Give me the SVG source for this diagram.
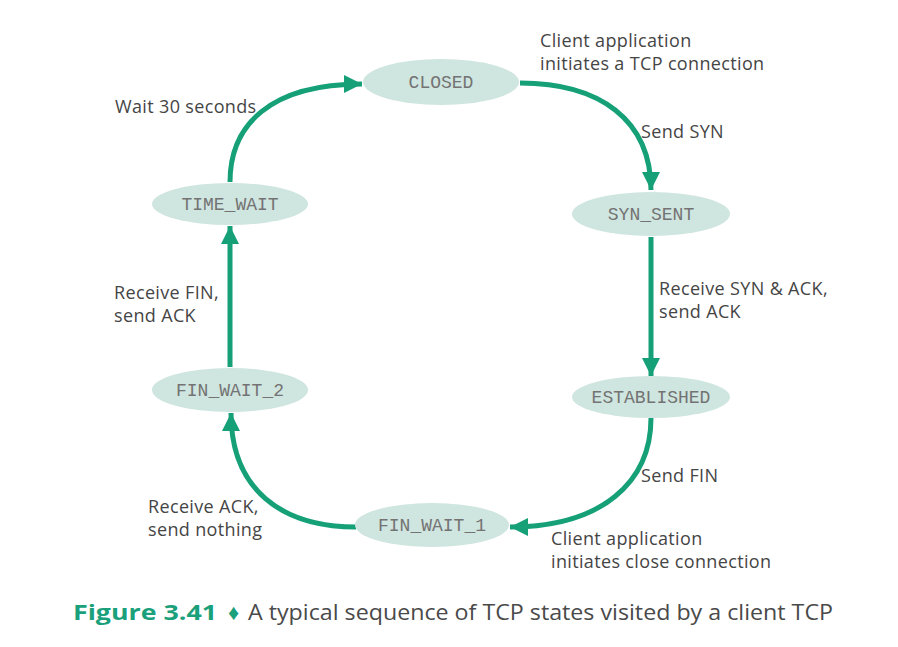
<svg xmlns="http://www.w3.org/2000/svg" width="898" height="647" viewBox="0 0 898 647">
<style>
.node{fill:#cfe5df;}
.st{font-family:"Liberation Mono","DejaVu Sans Mono",monospace;font-size:18px;fill:#737373;text-anchor:middle;}
.lbl{font-family:"Open Sans","Noto Sans",sans-serif;font-size:18px;letter-spacing:0.35px;fill:#454545;}
.edge{fill:none;stroke:#16a078;stroke-width:5;}
.cap{font-family:"Open Sans","Noto Sans",sans-serif;font-size:22px;}
</style>
<defs>
<marker id="ah" markerUnits="userSpaceOnUse" markerWidth="20" markerHeight="18" refX="18" refY="9" orient="auto">
<path d="M0,0 L18,9 L0,18 Z" fill="#16a078"/>
</marker>
</defs>
<rect width="898" height="647" fill="#ffffff"/>
<g id="connectors">
<path class="edge" marker-end="url(#ah)" d="M230,182 C230,125 270,84 362,84"/>
<path class="edge" marker-end="url(#ah)" d="M520,83 C600,83 651,120 651,190"/>
<path class="edge" marker-end="url(#ah)" d="M651,237 L651,376"/>
<path class="edge" marker-end="url(#ah)" d="M651,418 C651,482 602,527 510,527"/>
<path class="edge" marker-end="url(#ah)" d="M356,527 C282,527 231,490 231,413"/>
<path class="edge" marker-end="url(#ah)" d="M230,367 L230,226"/>
</g>
<g id="closed"><ellipse class="node" cx="441" cy="82" rx="78" ry="23"/><text class="st" x="441" y="88">CLOSED</text></g>
<g id="syn_sent"><ellipse class="node" cx="651" cy="214" rx="79" ry="22"/><text class="st" x="651" y="220">SYN_SENT</text></g>
<g id="established"><ellipse class="node" cx="651" cy="397" rx="79" ry="21"/><text class="st" x="651" y="403">ESTABLISHED</text></g>
<g id="fin_wait_1"><ellipse class="node" cx="432" cy="525" rx="77" ry="22"/><text class="st" x="432" y="531">FIN_WAIT_1</text></g>
<g id="fin_wait_2"><ellipse class="node" cx="230" cy="390" rx="78" ry="22"/><text class="st" x="230" y="396">FIN_WAIT_2</text></g>
<g id="time_wait"><ellipse class="node" cx="230" cy="204" rx="78" ry="21"/><text class="st" x="230" y="210">TIME_WAIT</text></g>
<g id="labels">
<text class="lbl" x="540" y="47">Client application</text>
<text class="lbl" x="540" y="70">initiates a TCP connection</text>
<text class="lbl" x="641" y="138">Send SYN</text>
<text class="lbl" x="659" y="295">Receive SYN &amp; ACK,</text>
<text class="lbl" x="659" y="318">send ACK</text>
<text class="lbl" x="641" y="482">Send FIN</text>
<text class="lbl" x="551" y="545">Client application</text>
<text class="lbl" x="551" y="568">initiates close connection</text>
<text class="lbl" x="148" y="513">Receive ACK,</text>
<text class="lbl" x="148" y="536">send nothing</text>
<text class="lbl" x="114" y="299">Receive FIN,</text>
<text class="lbl" x="114" y="322">send ACK</text>
<text class="lbl" x="115" y="113">Wait 30 seconds</text>
</g>
<g id="caption">
<text class="cap" x="73" y="620" fill="#1aa07a" font-weight="bold" textLength="144" lengthAdjust="spacingAndGlyphs">Figure 3.41</text>
<text class="cap" x="228" y="620" fill="#1aa07a" font-size="14">♦</text>
<text class="cap" x="248" y="620" fill="#4a4a4a" textLength="585" lengthAdjust="spacingAndGlyphs">A typical sequence of TCP states visited by a client TCP</text>
</g>
</svg>
